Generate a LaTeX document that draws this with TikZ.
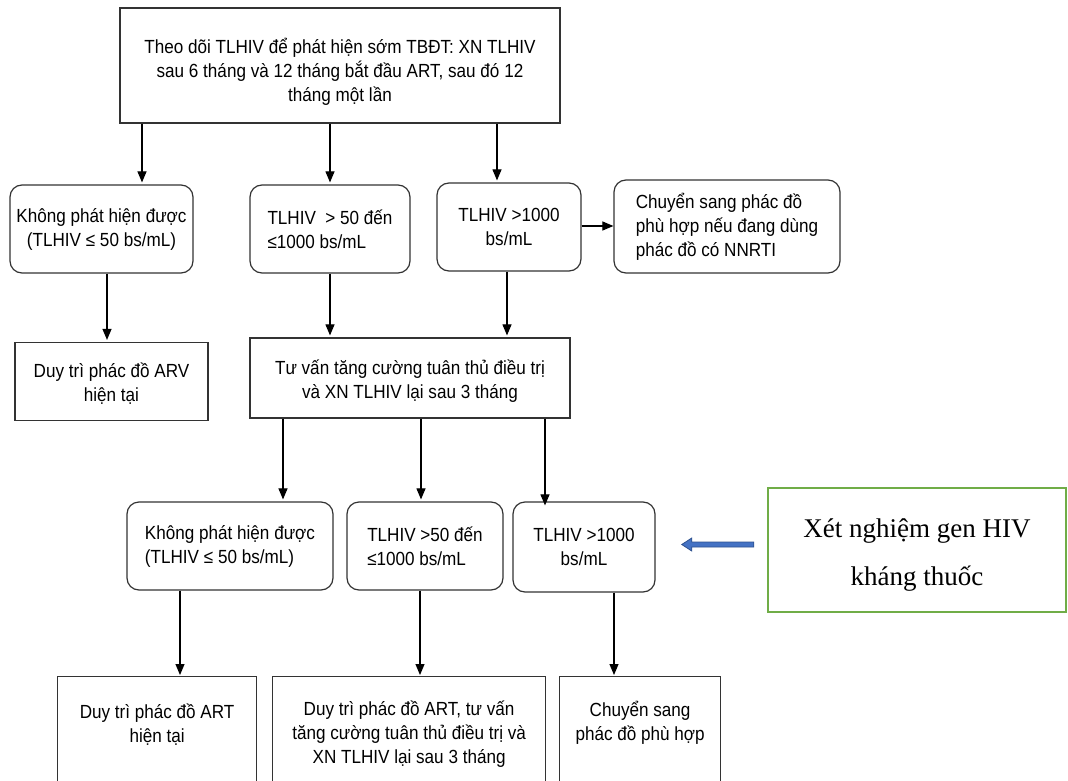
\documentclass[tikz,border=0pt]{standalone}
\usepackage{fontspec}
\setmainfont{Liberation Sans}[FakeStretch=0.9]
\newfontfamily\serifx{Liberation Serif}
\usetikzlibrary{arrows.meta,calc}
\definecolor{gbox}{RGB}{112,173,71}
\definecolor{barrowfill}{RGB}{68,114,196}
\definecolor{barrowline}{RGB}{47,82,143}
\begin{document}
\begin{tikzpicture}[x=1pt,y=-1pt,
  box/.style={draw=black!80, line width=1.2pt, inner sep=0pt, font=\fontsize{19}{24}\selectfont, align=center},
  rbox/.style={box, rounded corners=12pt},
  txt/.style={inner sep=0pt, font=\fontsize{19}{24}\selectfont, align=center},
  arr/.style={draw=black, line width=1.1pt, -{Triangle[length=11pt,width=9pt]}},
]
\useasboundingbox (0,0) rectangle (1068,781);
\fill[white] (0,0) rectangle (1068,781);

% top
\node[box, minimum width=440pt, minimum height=115pt] (T) at (340,65.5) {};
\node[txt] (Tt) at ($(T.center)+(0,6)$)
  {Theo dõi TLHIV để phát hiện sớm TBĐT: XN TLHIV\\sau 6 tháng và 12 tháng bắt đầu ART, sau đó 12\\tháng một lần};

% row 2
\node[rbox, minimum width=183pt, minimum height=88pt] (A) at (101.5,229)
  {Không phát hiện được\\(TLHIV ≤ 50 bs/mL)};
\node[rbox, align=left, minimum width=160pt, minimum height=88pt] (B) at (330,229)
  {TLHIV \ > 50 đến\\≤1000 bs/mL};
\node[rbox, minimum width=144pt, minimum height=88pt] (C) at (509,227)
  {TLHIV >1000\\bs/mL};
\node[rbox, align=left, minimum width=226pt, minimum height=93pt] (D) at (727,226.5)
  {Chuyển sang phác đồ\\phù hợp nếu đang dùng\\phác đồ có NNRTI};

% row 3
\node[box, minimum width=193pt, minimum height=78pt] (K) at (111.5,381.5) {};
\node[txt] (Kt) at ($(K.center)+(0,2)$) {Duy trì phác đồ ARV\\hiện tại};
\node[box, minimum width=320pt, minimum height=80pt] (M) at (410,378) {};
\node[txt] (Mt) at ($(M.center)+(0,3)$) {Tư vấn tăng cường tuân thủ điều trị\\và XN TLHIV lại sau 3 tháng};

% row 4
\node[rbox, align=left, minimum width=206pt, minimum height=88pt] (E) at (230,546)
  {Không phát hiện được\\(TLHIV ≤ 50 bs/mL)};
\node[rbox, align=left, minimum width=156pt, minimum height=88pt] (F) at (425,546)
  {TLHIV >50 đến\\≤1000 bs/mL};
\node[rbox, minimum width=142pt, minimum height=90pt] (G) at (584,547)
  {TLHIV >1000\\bs/mL};

% green box
\node[draw=gbox, line width=2.5pt, minimum width=298pt, minimum height=124pt, inner sep=0pt] (X) at (917,550) {};
\node[inner sep=0pt, align=center, font=\serifx\fontsize{27}{48}\selectfont] (Xt) at ($(X.center)+(0,5)$)
  {Xét nghiệm gen HIV\\kháng thuốc};

% bottom row (cut off at the page edge)
\begin{scope}
\clip (0,0) rectangle (1068,781);
\node[box, minimum width=199pt, minimum height=130pt, anchor=north west] (H) at (57,676) {};
\node[box, minimum width=273pt, minimum height=130pt, anchor=north west] (I) at (272,676) {};
\node[box, minimum width=161pt, minimum height=130pt, anchor=north west] (J) at (559,676) {};
\end{scope}
\node[txt, anchor=north] (Ht) at ($(H.north)+(0,28)$) {Duy trì phác đồ ART\\hiện tại};
\node[txt, anchor=north] (It) at ($(I.north)+(0,25)$) {Duy trì phác đồ ART, tư vấn\\tăng cường tuân thủ điều trị và\\XN TLHIV lại sau 3 tháng};
\node[txt, anchor=north] (Jt) at ($(J.north)+(0,25)$) {Chuyển sang\\phác đồ phù hợp};

% connectors
\draw[arr] (T.south -| 142,0) -- ([yshift=2pt]A.north -| 142,0);
\draw[arr] (T.south -| 330,0) -- ([yshift=2pt]B.north -| 330,0);
\draw[arr] (T.south -| 497,0) -- ([yshift=2pt]C.north -| 497,0);
\draw[arr] (C.east |- 0,226) -- (D.west |- 0,226);
\draw[arr] (A.south -| 107,0) -- ([yshift=2pt]K.north -| 107,0);
\draw[arr] (B.south -| 330,0) -- ([yshift=2pt]M.north -| 330,0);
\draw[arr] (C.south -| 507,0) -- ([yshift=2pt]M.north -| 507,0);
\draw[arr] (M.south -| 283,0) -- ([yshift=2pt]E.north -| 283,0);
\draw[arr] (M.south -| 421,0) -- ([yshift=2pt]F.north -| 421,0);
\draw[arr] (M.south -| 545,0) -- ([yshift=-4pt]G.north -| 545,0);
\draw[arr] (E.south -| 180,0) -- ([yshift=1pt]H.north -| 180,0);
\draw[arr] (F.south -| 420,0) -- ([yshift=1pt]I.north -| 420,0);
\draw[arr] (G.south -| 614,0) -- ([yshift=1pt]J.north -| 614,0);

% blue block arrow pointing left from the green box
\draw[fill=barrowfill, draw=barrowline, line width=0.8pt]
  ($(X.west)+(-13,-8)$) -- ++(-62,0) -- ++(0,-4) -- ++(-10,6.5) -- ++(10,6.5) -- ++(0,-4) -- ++(62,0) -- cycle;
\end{tikzpicture}
\end{document}
